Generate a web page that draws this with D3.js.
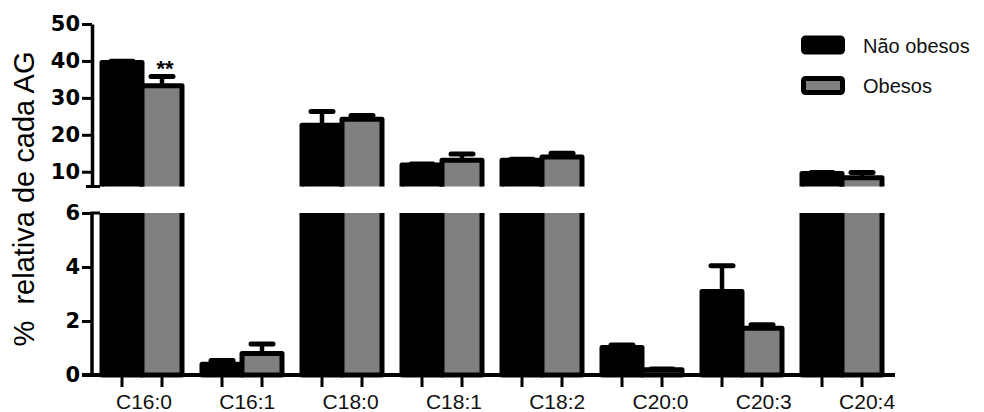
<!DOCTYPE html>
<html>
<head>
<meta charset="utf-8">
<script src="https://cdn.jsdelivr.net/npm/d3@7"></script>
<style>
  html, body { margin: 0; padding: 0; background: #fff; }
  svg { display: block; }
</style>
</head>
<body>
<script>
// Fatty-acid profile: % of each fatty acid, non-obese vs obese (mean + SEM)
const categories = ["C16:0", "C16:1", "C18:0", "C18:1", "C18:2", "C20:0", "C20:3", "C20:4"];
const seriesNames = ["Não obesos", "Obesos"];
const naoObesos    = [39.6, 0.40, 22.6, 11.8, 13.1, 1.02, 3.09, 9.5];
const naoObesosSEM = [0.3, 0.14, 3.7, 0.3, 0.3, 0.09, 0.96, 0.3];
const obesos       = [33.3, 0.80, 24.2, 13.1, 14.0, 0.19, 1.73, 8.4];
const obesosSEM    = [2.5, 0.35, 1.0, 1.7, 1.0, 0.03, 0.13, 1.4];
const significance = ["**", "", "", "", "", "", "", ""];
const upperTicks = [10, 20, 30, 40, 50];
const lowerTicks = [0, 2, 4, 6];
const breakValue = 6;

const W = 984, H = 412;
const svg = d3.select("body").append("svg").attr("width", W).attr("height", H);

const colors = { "Não obesos": "#000000", "Obesos": "#808080" };
const strokeW = 5;

// scales
const x0 = d3.scaleBand().domain(categories).range([92, 892]).paddingInner(0.2).paddingOuter(0.1);
const x1 = d3.scaleBand().domain(seriesNames).range([0, x0.bandwidth()]);
const yUp = d3.scaleLinear().domain([breakValue, 50]).range([186.5, 24]);
const yLo = d3.scaleLinear().domain([0, breakValue]).range([375, 213]);

const rows = [];
categories.forEach((c, i) => {
  rows.push({ cat: c, s: "Não obesos", v: naoObesos[i], e: naoObesosSEM[i], i });
  rows.push({ cat: c, s: "Obesos", v: obesos[i], e: obesosSEM[i], i });
});

// clip regions for the two axis segments
const defs = svg.append("defs");
defs.append("clipPath").attr("id", "clipUp").append("rect")
  .attr("x", 0).attr("y", 0).attr("width", W).attr("height", yUp(breakValue));
defs.append("clipPath").attr("id", "clipLo").append("rect")
  .attr("x", 0).attr("y", yLo(breakValue)).attr("width", W).attr("height", H - yLo(breakValue));

const barX = d => x0(d.cat) + x1(d.s);
const bw = x1.bandwidth();

function drawSegment(clipId, y, lo, hi) {
  const g = svg.append("g").attr("clip-path", `url(#${clipId})`);
  const data = rows.filter(d => d.v > lo);
  const top = d => d.v > hi ? y(hi) - 12 : y(d.v);
  const bottom = lo === 0 ? y(0) : y(lo) + 12;
  // bars (black first so the grey bars' outlines sit on top)
  seriesNames.forEach(s => {
    g.selectAll(null).data(data.filter(d => d.s === s)).join("rect")
      .attr("x", barX)
      .attr("y", top)
      .attr("width", bw)
      .attr("height", d => bottom - top(d))
      .attr("fill", colors[s])
      .attr("stroke", "#000")
      .attr("stroke-width", strokeW)
      .attr("stroke-linejoin", "round");
  });
  // error bars (upward only)
  const eb = data.filter(d => d.v <= hi);
  g.selectAll(null).data(eb).join("line")
    .attr("x1", d => barX(d) + bw / 2).attr("x2", d => barX(d) + bw / 2)
    .attr("y1", d => y(d.v)).attr("y2", d => y(d.v + d.e))
    .attr("stroke", "#000").attr("stroke-width", 4.5);
  g.selectAll(null).data(eb).join("line")
    .attr("x1", d => barX(d) + bw / 2 - 11).attr("x2", d => barX(d) + bw / 2 + 11)
    .attr("y1", d => y(d.v + d.e)).attr("y2", d => y(d.v + d.e))
    .attr("stroke", "#000").attr("stroke-width", 5).attr("stroke-linecap", "round");
}
drawSegment("clipLo", yLo, 0, breakValue);
drawSegment("clipUp", yUp, breakValue, 50);

// significance marks above the error caps
svg.selectAll(null).data(rows.filter(d => d.s === "Obesos" && significance[d.i])).join("text")
  .attr("x", d => barX(d) + bw / 2 + 3)
  .attr("y", d => yUp(d.v + d.e))
  .attr("text-anchor", "middle")
  .attr("font-family", "Liberation Sans, Arial, sans-serif")
  .attr("font-size", 22)
  .attr("font-weight", "bold")
  .attr("fill", "#000")
  .text(d => significance[d.i]);

// y axes
function styleAxis(g) {
  g.select(".domain").attr("stroke", "#000").attr("stroke-width", 3.5);
  g.selectAll(".tick line").attr("stroke", "#000").attr("stroke-width", 3);
  g.selectAll(".tick text")
    .attr("font-family", "DejaVu Sans, sans-serif")
    .attr("font-weight", "bold")
    .attr("font-size", 21)
    .attr("fill", "#000");
}
svg.append("g").attr("transform", "translate(92,0)")
  .call(d3.axisLeft(yUp).tickValues(upperTicks).tickFormat(d3.format("d"))
    .tickSize(10).tickSizeOuter(0).tickPadding(2))
  .call(styleAxis);
const axLo = svg.append("g").attr("transform", "translate(92,0)")
  .call(d3.axisLeft(yLo).tickValues(lowerTicks).tickFormat(d3.format("d"))
    .tickSize(10).tickSizeOuter(0).tickPadding(2))
  .call(styleAxis);
axLo.select(".domain").remove();
axLo.append("line").attr("x1", 0).attr("x2", 0).attr("y1", yLo(breakValue)).attr("y2", yLo(0))
  .attr("stroke", "#000").attr("stroke-width", 3.5);

// break marks
svg.append("line").attr("x1", 86).attr("x2", 100).attr("y1", yUp(breakValue)).attr("y2", yUp(breakValue))
  .attr("stroke", "#000").attr("stroke-width", 3);
svg.append("line").attr("x1", 90).attr("x2", 100).attr("y1", yLo(breakValue)).attr("y2", yLo(breakValue))
  .attr("stroke", "#000").attr("stroke-width", 3);

// x axis
svg.append("line").attr("x1", 82).attr("x2", 895).attr("y1", yLo(0)).attr("y2", yLo(0))
  .attr("stroke", "#000").attr("stroke-width", 4);
svg.selectAll(null).data(rows).join("line")
  .attr("x1", d => barX(d) + bw / 2).attr("x2", d => barX(d) + bw / 2)
  .attr("y1", yLo(0)).attr("y2", yLo(0) + 12)
  .attr("stroke", "#000").attr("stroke-width", 3);
svg.selectAll(null).data(categories).join("text")
  .attr("x", (c, i) => x0(c) + x0.bandwidth() / 2 + 2 + i * 3.3)
  .attr("y", 409)
  .attr("text-anchor", "middle")
  .attr("font-family", "Liberation Sans, Arial, sans-serif")
  .attr("font-size", 21)
  .attr("fill", "#111")
  .text(c => c);

// y axis title
svg.append("text")
  .attr("transform", "translate(34,199) rotate(-90)")
  .attr("text-anchor", "middle")
  .attr("font-family", "Liberation Sans, Arial, sans-serif")
  .attr("font-size", 29)
  .attr("fill", "#000")
  .style("white-space", "pre")
  .text("%  relativa de cada AG");

// legend
const legend = svg.append("g");
seriesNames.forEach((s, i) => {
  legend.append("rect")
    .attr("x", 803.5).attr("y", 38 + i * 40.5).attr("width", 39).attr("height", 14)
    .attr("rx", 2)
    .attr("fill", colors[s]).attr("stroke", "#000").attr("stroke-width", strokeW);
  legend.append("text")
    .attr("x", 863).attr("y", 52.7 + i * 40)
    .attr("font-family", "Liberation Sans, Arial, sans-serif")
    .attr("font-size", 20)
    .attr("fill", "#111")
    .text(s);
});
</script>
</body>
</html>
